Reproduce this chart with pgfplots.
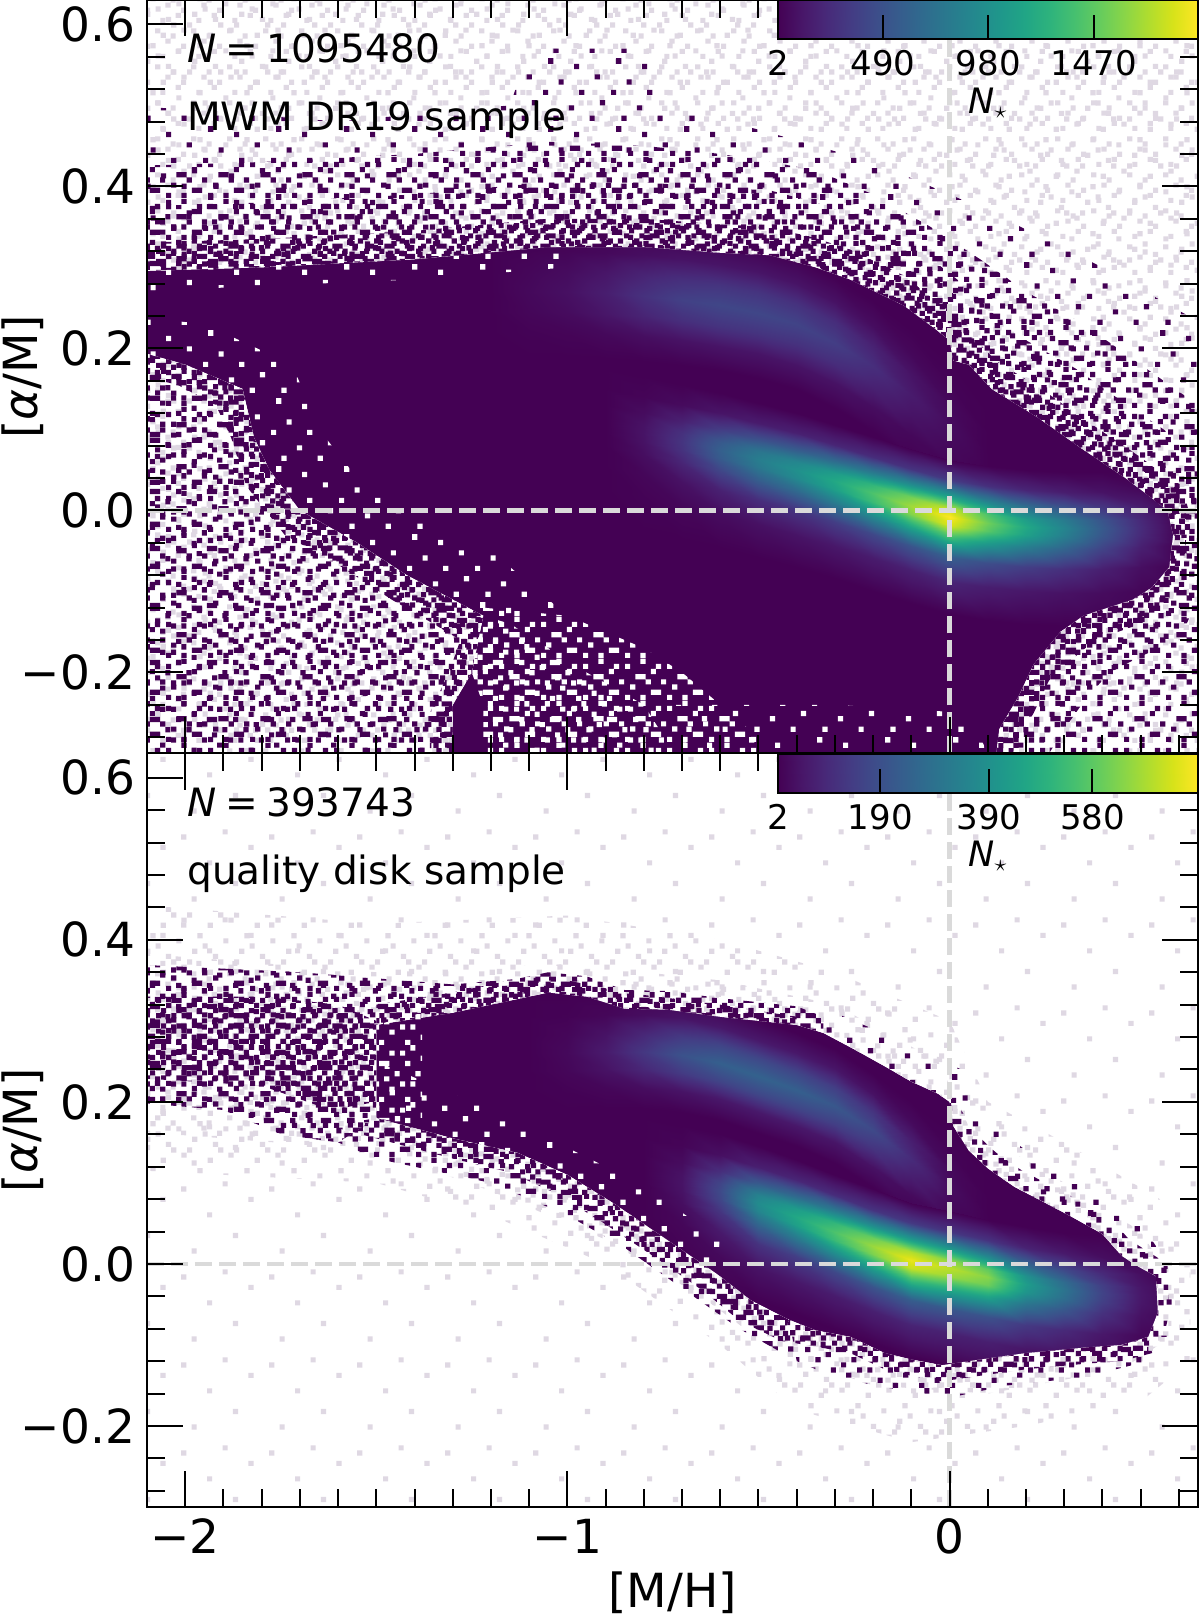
\documentclass[border=0pt]{standalone}
\usepackage{fontspec}
\setmainfont{DejaVu Sans}
\usepackage{pgfplots}
\usepackage{pgfplotstable}
\pgfplotsset{compat=1.18}
\usetikzlibrary{patterns}

\definecolor{vpur}{HTML}{440154}
\definecolor{spkgrey}{RGB}{223,216,227}
\definecolor{dashgrey}{RGB}{218,218,218}

\newcommand{\spk}[2]{\pgfpathrectangle{\pgfpoint{#1*2.6pt}{#2*2.6pt}}{\pgfpoint{2.6pt}{2.6pt}}}
\pgfdeclarepatternformonly{spkA}{\pgfpointorigin}{\pgfpoint{20.8pt}{20.8pt}}{\pgfpoint{20.8pt}{20.8pt}}{%
\spk{0}{0}\spk{3}{0}\spk{5}{1}\spk{6}{1}\spk{1}{2}\spk{4}{3}\spk{7}{3}\spk{2}{4}\spk{3}{4}\spk{5}{5}\spk{0}{6}\spk{6}{6}\spk{3}{7}\pgfusepath{fill}}
\pgfdeclarepatternformonly{spkB}{\pgfpointorigin}{\pgfpoint{28.6pt}{28.6pt}}{\pgfpoint{28.6pt}{28.6pt}}{%
\spk{1}{0}\spk{7}{0}\spk{4}{1}\spk{9}{2}\spk{0}{3}\spk{2}{3}\spk{6}{3}\spk{8}{4}\spk{3}{5}\spk{10}{5}\spk{5}{6}\spk{1}{7}\spk{7}{7}\spk{8}{7}\spk{4}{8}\spk{0}{9}\spk{9}{9}\spk{2}{10}\spk{6}{10}\pgfusepath{fill}}
\pgfdeclarepatternformonly{spkC}{\pgfpointorigin}{\pgfpoint{33.8pt}{33.8pt}}{\pgfpoint{33.8pt}{33.8pt}}{%
\spk{2}{1}\spk{9}{1}\spk{5}{3}\spk{11}{4}\spk{0}{6}\spk{7}{6}\spk{3}{8}\spk{10}{9}\spk{6}{11}\spk{1}{12}\pgfusepath{fill}}
\pgfdeclarepatternformonly{spkD}{\pgfpointorigin}{\pgfpoint{26pt}{26pt}}{\pgfpoint{26pt}{26pt}}{%
\spk{0}{0}\spk{1}{0}\spk{4}{0}\spk{7}{0}\spk{2}{1}\spk{5}{1}\spk{8}{1}\spk{9}{1}\spk{0}{2}\spk{3}{2}\spk{6}{2}\spk{1}{3}\spk{4}{3}\spk{5}{3}\spk{8}{3}\spk{2}{4}\spk{7}{4}\spk{9}{4}\spk{0}{5}\spk{3}{5}\spk{5}{5}\spk{6}{5}\spk{1}{6}\spk{4}{6}\spk{8}{6}\spk{2}{7}\spk{6}{7}\spk{9}{7}\spk{0}{8}\spk{3}{8}\spk{4}{8}\spk{7}{8}\spk{1}{9}\spk{5}{9}\spk{8}{9}\pgfusepath{fill}}
\pgfdeclarepatternformonly{spkG}{\pgfpointorigin}{\pgfpoint{23.4pt}{23.4pt}}{\pgfpoint{23.4pt}{23.4pt}}{%
\spk{1}{1}\spk{5}{0}\spk{7}{3}\spk{2}{4}\spk{4}{6}\spk{8}{7}\spk{0}{8}\spk{6}{8}\spk{3}{2}\pgfusepath{fill}}
\pgfdeclarepatternformonly{spkH}{\pgfpointorigin}{\pgfpoint{18.2pt}{18.2pt}}{\pgfpoint{18.2pt}{18.2pt}}{%
\spk{0}{2}\spk{3}{0}\spk{5}{4}\spk{2}{5}\spk{6}{1}\spk{4}{3}\pgfusepath{fill}}
\pgfdeclarepatternformonly{spkS}{\pgfpointorigin}{\pgfpoint{44.2pt}{44.2pt}}{\pgfpoint{44.2pt}{44.2pt}}{%
\spk{3}{2}\spk{11}{5}\spk{6}{9}\spk{14}{12}\spk{1}{14}\spk{9}{15}\pgfusepath{fill}}

% colour-bar ramp (meta = position along the bar)
\pgfplotstableread[row sep=\\]{
x y v\\
0 0 0\\ 0 1 0\\ 0.1 0 0.1\\ 0.1 1 0.1\\ 0.2 0 0.2\\ 0.2 1 0.2\\ 0.3 0 0.3\\ 0.3 1 0.3\\ 0.4 0 0.4\\ 0.4 1 0.4\\ 0.5 0 0.5\\ 0.5 1 0.5\\ 0.6 0 0.6\\ 0.6 1 0.6\\ 0.7 0 0.7\\ 0.7 1 0.7\\ 0.8 0 0.8\\ 0.8 1 0.8\\ 0.9 0 0.9\\ 0.9 1 0.9\\ 1 0 1\\ 1 1 1\\
}\Ramp

% ---------------- top panel data ----------------
\pgfplotstableread[row sep=\\]{
x y\\
-2.15 0.295\\ -1.8 0.3\\ -1.4 0.31\\ -1.05 0.325\\ -0.8 0.325\\ -0.6 0.318\\ -0.47 0.315\\ -0.35 0.3\\ -0.26 0.285\\ -0.12 0.253\\ -0.04 0.225\\ 0 0.21\\ 0.01 0.185\\ 0.05 0.18\\ 0.11 0.15\\ 0.23 0.115\\ 0.35 0.075\\ 0.46 0.04\\ 0.53 0.015\\ 0.57 0\\ 0.585 -0.03\\ 0.575 -0.07\\ 0.53 -0.095\\ 0.48 -0.11\\ 0.35 -0.13\\ 0.29 -0.15\\ 0.22 -0.19\\ 0.18 -0.23\\ 0.13 -0.27\\ 0.11 -0.35\\ -1.3 -0.35\\ -1.3 -0.24\\ -1.25 -0.2\\ -1.22 -0.13\\ -1.3 -0.11\\ -1.42 -0.08\\ -1.55 -0.04\\ -1.7 0.0\\ -1.78 0.05\\ -1.82 0.09\\ -1.85 0.15\\ -2.0 0.18\\ -2.15 0.2\\
}\Etop
\pgfplotstableread[row sep=\\]{
x y\\
-2.3 0.295\\ -2.3 0.8\\ 0.8 0.8\\ 0.8 -0.5\\ -2.3 -0.5\\ -2.3 0.295\\
-2.15 0.295\\ -1.8 0.3\\ -1.4 0.31\\ -1.05 0.325\\ -0.8 0.325\\ -0.6 0.318\\ -0.47 0.315\\ -0.35 0.3\\ -0.26 0.285\\ -0.12 0.253\\ -0.04 0.225\\ 0 0.21\\ 0.01 0.185\\ 0.05 0.18\\ 0.11 0.15\\ 0.23 0.115\\ 0.35 0.075\\ 0.46 0.04\\ 0.53 0.015\\ 0.57 0\\ 0.585 -0.03\\ 0.575 -0.07\\ 0.53 -0.095\\ 0.48 -0.11\\ 0.35 -0.13\\ 0.29 -0.15\\ 0.22 -0.19\\ 0.18 -0.23\\ 0.13 -0.27\\ 0.11 -0.35\\ -1.3 -0.35\\ -1.3 -0.24\\ -1.25 -0.2\\ -1.22 -0.13\\ -1.3 -0.11\\ -1.42 -0.08\\ -1.55 -0.04\\ -1.7 0.0\\ -1.78 0.05\\ -1.82 0.09\\ -1.85 0.15\\ -2.0 0.18\\ -2.15 0.2\\ -2.15 0.295\\
}\Mtop
\pgfplotstableread[row sep=\\]{
x y v\\
-1.2 0.19 0\\ -1.2 0.22 0\\ -1.2 0.245 0\\ -1.2 0.27 0\\ -1.2 0.295 0\\ -1.2 0.32 0\\ -1.2 0.35 0\\
-1.1 0.19 0\\ -1.1 0.22 0.005\\ -1.1 0.245 0.014\\ -1.1 0.27 0.02\\ -1.1 0.295 0.014\\ -1.1 0.32 0.005\\ -1.1 0.35 0\\
-1.0 0.19 0\\ -1.0 0.22 0.01\\ -1.0 0.245 0.028\\ -1.0 0.27 0.04\\ -1.0 0.295 0.028\\ -1.0 0.32 0.01\\ -1.0 0.35 0\\
-0.9 0.188 0\\ -0.9 0.218 0.02\\ -0.9 0.243 0.057\\ -0.9 0.268 0.08\\ -0.9 0.293 0.057\\ -0.9 0.318 0.02\\ -0.9 0.348 0\\
-0.8 0.185 0\\ -0.8 0.215 0.035\\ -0.8 0.24 0.099\\ -0.8 0.265 0.14\\ -0.8 0.29 0.099\\ -0.8 0.315 0.035\\ -0.8 0.345 0\\
-0.7 0.18 0\\ -0.7 0.21 0.047\\ -0.7 0.235 0.134\\ -0.7 0.26 0.19\\ -0.7 0.285 0.134\\ -0.7 0.31 0.047\\ -0.7 0.34 0\\
-0.6 0.173 0\\ -0.6 0.203 0.052\\ -0.6 0.228 0.148\\ -0.6 0.253 0.21\\ -0.6 0.278 0.148\\ -0.6 0.303 0.052\\ -0.6 0.333 0\\
-0.5 0.164 0\\ -0.5 0.194 0.052\\ -0.5 0.219 0.148\\ -0.5 0.244 0.21\\ -0.5 0.269 0.148\\ -0.5 0.294 0.052\\ -0.5 0.324 0\\
-0.4 0.15 0\\ -0.4 0.18 0.05\\ -0.4 0.205 0.141\\ -0.4 0.23 0.2\\ -0.4 0.255 0.141\\ -0.4 0.28 0.05\\ -0.4 0.31 0\\
-0.3 0.127 0\\ -0.3 0.157 0.045\\ -0.3 0.182 0.127\\ -0.3 0.207 0.18\\ -0.3 0.232 0.127\\ -0.3 0.257 0.045\\ -0.3 0.287 0\\
-0.2 0.098 0\\ -0.2 0.128 0.032\\ -0.2 0.153 0.092\\ -0.2 0.178 0.13\\ -0.2 0.203 0.092\\ -0.2 0.228 0.032\\ -0.2 0.258 0\\
-0.1 0.063 0\\ -0.1 0.093 0.017\\ -0.1 0.118 0.049\\ -0.1 0.143 0.07\\ -0.1 0.168 0.049\\ -0.1 0.193 0.017\\ -0.1 0.223 0\\
0.0 0.025 0\\ 0.0 0.055 0.007\\ 0.0 0.08 0.021\\ 0.0 0.105 0.03\\ 0.0 0.13 0.021\\ 0.0 0.155 0.007\\ 0.0 0.185 0\\
0.1 -0.01 0\\ 0.1 0.02 0\\ 0.1 0.045 0\\ 0.1 0.07 0\\ 0.1 0.095 0\\ 0.1 0.12 0\\ 0.1 0.15 0\\
}\Htop
\pgfplotstableread[row sep=\\]{
x y v\\
-0.9 -0.015 0\\ -0.9 0.025 0\\ -0.9 0.055 0\\ -0.9 0.08 0\\ -0.9 0.095 0\\ -0.9 0.105 0\\ -0.9 0.115 0\\ -0.9 0.13 0\\ -0.9 0.15 0\\ -0.9 0.175 0\\
-0.8 -0.025 0\\ -0.8 0.015 0.005\\ -0.8 0.045 0.015\\ -0.8 0.07 0.035\\ -0.8 0.085 0.047\\ -0.8 0.095 0.05\\ -0.8 0.105 0.046\\ -0.8 0.12 0.029\\ -0.8 0.14 0.009\\ -0.8 0.165 0\\
-0.7 -0.035 0\\ -0.7 0.005 0.015\\ -0.7 0.035 0.045\\ -0.7 0.06 0.105\\ -0.7 0.075 0.142\\ -0.7 0.085 0.15\\ -0.7 0.095 0.138\\ -0.7 0.11 0.087\\ -0.7 0.13 0.026\\ -0.7 0.155 0\\
-0.6 -0.045 0\\ -0.6 -0.005 0.03\\ -0.6 0.025 0.09\\ -0.6 0.05 0.21\\ -0.6 0.065 0.284\\ -0.6 0.075 0.3\\ -0.6 0.085 0.275\\ -0.6 0.1 0.174\\ -0.6 0.12 0.052\\ -0.6 0.145 0\\
-0.5 -0.057 0\\ -0.5 -0.017 0.042\\ -0.5 0.013 0.126\\ -0.5 0.038 0.294\\ -0.5 0.053 0.397\\ -0.5 0.063 0.42\\ -0.5 0.073 0.385\\ -0.5 0.088 0.244\\ -0.5 0.108 0.072\\ -0.5 0.133 0\\
-0.4 -0.07 0\\ -0.4 -0.03 0.05\\ -0.4 0.0 0.15\\ -0.4 0.025 0.35\\ -0.4 0.04 0.473\\ -0.4 0.05 0.5\\ -0.4 0.06 0.459\\ -0.4 0.075 0.29\\ -0.4 0.095 0.086\\ -0.4 0.12 0\\
-0.3 -0.084 0\\ -0.3 -0.044 0.06\\ -0.3 -0.014 0.18\\ -0.3 0.011 0.42\\ -0.3 0.026 0.568\\ -0.3 0.036 0.6\\ -0.3 0.046 0.55\\ -0.3 0.061 0.348\\ -0.3 0.081 0.103\\ -0.3 0.106 0\\
-0.2 -0.099 0\\ -0.2 -0.059 0.072\\ -0.2 -0.029 0.216\\ -0.2 -0.004 0.504\\ -0.2 0.011 0.681\\ -0.2 0.021 0.72\\ -0.2 0.031 0.66\\ -0.2 0.046 0.418\\ -0.2 0.066 0.124\\ -0.2 0.091 0\\
-0.1 -0.114 0\\ -0.1 -0.074 0.086\\ -0.1 -0.044 0.258\\ -0.1 -0.019 0.602\\ -0.1 -0.004 0.814\\ -0.1 0.006 0.86\\ -0.1 0.016 0.789\\ -0.1 0.031 0.499\\ -0.1 0.051 0.148\\ -0.1 0.076 0\\
0.0 -0.128 0\\ 0.0 -0.088 0.1\\ 0.0 -0.058 0.3\\ 0.0 -0.033 0.7\\ 0.0 -0.018 0.946\\ 0.0 -0.008 1\\ 0.0 0.002 0.917\\ 0.0 0.017 0.58\\ 0.0 0.037 0.172\\ 0.0 0.062 0\\
0.1 -0.135 0\\ 0.1 -0.095 0.078\\ 0.1 -0.065 0.234\\ 0.1 -0.04 0.546\\ 0.1 -0.025 0.738\\ 0.1 -0.015 0.78\\ 0.1 -0.005 0.715\\ 0.1 0.01 0.452\\ 0.1 0.03 0.134\\ 0.1 0.055 0\\
0.2 -0.14 0\\ 0.2 -0.1 0.06\\ 0.2 -0.07 0.18\\ 0.2 -0.045 0.42\\ 0.2 -0.03 0.568\\ 0.2 -0.02 0.6\\ 0.2 -0.01 0.55\\ 0.2 0.005 0.348\\ 0.2 0.025 0.103\\ 0.2 0.05 0\\
0.3 -0.142 0\\ 0.3 -0.102 0.045\\ 0.3 -0.072 0.135\\ 0.3 -0.047 0.315\\ 0.3 -0.032 0.426\\ 0.3 -0.022 0.45\\ 0.3 -0.012 0.413\\ 0.3 0.003 0.261\\ 0.3 0.023 0.077\\ 0.3 0.048 0\\
0.4 -0.142 0\\ 0.4 -0.102 0.028\\ 0.4 -0.072 0.084\\ 0.4 -0.047 0.196\\ 0.4 -0.032 0.265\\ 0.4 -0.022 0.28\\ 0.4 -0.012 0.257\\ 0.4 0.003 0.162\\ 0.4 0.023 0.048\\ 0.4 0.048 0\\
0.5 -0.14 0\\ 0.5 -0.1 0.012\\ 0.5 -0.07 0.036\\ 0.5 -0.045 0.084\\ 0.5 -0.03 0.114\\ 0.5 -0.02 0.12\\ 0.5 -0.01 0.11\\ 0.5 0.005 0.07\\ 0.5 0.025 0.021\\ 0.5 0.05 0\\
0.6 -0.138 0\\ 0.6 -0.098 0\\ 0.6 -0.068 0\\ 0.6 -0.043 0\\ 0.6 -0.028 0\\ 0.6 -0.018 0\\ 0.6 -0.008 0\\ 0.6 0.007 0\\ 0.6 0.027 0\\ 0.6 0.052 0\\
}\Ltop

% ---------------- bottom panel data ----------------
\pgfplotstableread[row sep=\\]{
x y\\
-1.5 0.295\\ -1.3 0.31\\ -1.15 0.325\\ -1.05 0.335\\ -0.95 0.33\\ -0.85 0.315\\ -0.74 0.314\\ -0.6 0.305\\ -0.5 0.3\\ -0.4 0.295\\ -0.33 0.285\\ -0.25 0.265\\ -0.17 0.244\\ -0.1 0.225\\ -0.03 0.21\\ 0 0.2\\ 0.01 0.17\\ 0.05 0.14\\ 0.1 0.118\\ 0.17 0.095\\ 0.24 0.078\\ 0.32 0.058\\ 0.4 0.037\\ 0.45 0.01\\ 0.5 -0.005\\ 0.54 -0.015\\ 0.545 -0.06\\ 0.52 -0.09\\ 0.45 -0.1\\ 0.36 -0.103\\ 0.2 -0.11\\ 0.05 -0.12\\ -0.02 -0.125\\ -0.1 -0.118\\ -0.17 -0.11\\ -0.26 -0.09\\ -0.35 -0.082\\ -0.42 -0.069\\ -0.52 -0.045\\ -0.61 -0.012\\ -0.74 0.03\\ -0.88 0.075\\ -1.0 0.11\\ -1.13 0.137\\ -1.3 0.155\\ -1.5 0.18\\
}\Ebot
\pgfplotstableread[row sep=\\]{
x y\\
-2.3 0.295\\ -2.3 0.8\\ 0.8 0.8\\ 0.8 -0.5\\ -2.3 -0.5\\ -2.3 0.295\\
-1.5 0.295\\ -1.3 0.31\\ -1.15 0.325\\ -1.05 0.335\\ -0.95 0.33\\ -0.85 0.315\\ -0.74 0.314\\ -0.6 0.305\\ -0.5 0.3\\ -0.4 0.295\\ -0.33 0.285\\ -0.25 0.265\\ -0.17 0.244\\ -0.1 0.225\\ -0.03 0.21\\ 0 0.2\\ 0.01 0.17\\ 0.05 0.14\\ 0.1 0.118\\ 0.17 0.095\\ 0.24 0.078\\ 0.32 0.058\\ 0.4 0.037\\ 0.45 0.01\\ 0.5 -0.005\\ 0.54 -0.015\\ 0.545 -0.06\\ 0.52 -0.09\\ 0.45 -0.1\\ 0.36 -0.103\\ 0.2 -0.11\\ 0.05 -0.12\\ -0.02 -0.125\\ -0.1 -0.118\\ -0.17 -0.11\\ -0.26 -0.09\\ -0.35 -0.082\\ -0.42 -0.069\\ -0.52 -0.045\\ -0.61 -0.012\\ -0.74 0.03\\ -0.88 0.075\\ -1.0 0.11\\ -1.13 0.137\\ -1.3 0.155\\ -1.5 0.18\\ -1.5 0.295\\
}\Mbot
\pgfplotstableread[row sep=\\]{
x y\\
-2.3 0.45\\ -1.5 0.42\\ -1.0 0.43\\ -0.6 0.4\\ -0.3 0.36\\ 0.0 0.3\\ 0.1 0.2\\ 0.3 0.15\\ 0.55 0.08\\ 0.63 0.0\\ 0.63 -0.12\\ 0.5 -0.17\\ 0.2 -0.2\\ -0.1 -0.22\\ -0.4 -0.18\\ -0.6 -0.1\\ -0.9 0.0\\ -1.2 0.06\\ -1.5 0.1\\ -2.3 0.12\\ -2.3 0.45\\
-1.5 0.295\\ -1.3 0.31\\ -1.15 0.325\\ -1.05 0.335\\ -0.95 0.33\\ -0.85 0.315\\ -0.74 0.314\\ -0.6 0.305\\ -0.5 0.3\\ -0.4 0.295\\ -0.33 0.285\\ -0.25 0.265\\ -0.17 0.244\\ -0.1 0.225\\ -0.03 0.21\\ 0 0.2\\ 0.01 0.17\\ 0.05 0.14\\ 0.1 0.118\\ 0.17 0.095\\ 0.24 0.078\\ 0.32 0.058\\ 0.4 0.037\\ 0.45 0.01\\ 0.5 -0.005\\ 0.54 -0.015\\ 0.545 -0.06\\ 0.52 -0.09\\ 0.45 -0.1\\ 0.36 -0.103\\ 0.2 -0.11\\ 0.05 -0.12\\ -0.02 -0.125\\ -0.1 -0.118\\ -0.17 -0.11\\ -0.26 -0.09\\ -0.35 -0.082\\ -0.42 -0.069\\ -0.52 -0.045\\ -0.61 -0.012\\ -0.74 0.03\\ -0.88 0.075\\ -1.0 0.11\\ -1.13 0.137\\ -1.3 0.155\\ -1.5 0.18\\ -1.5 0.295\\
}\Hone
\pgfplotstableread[row sep=\\]{
x y\\
-2.3 0.39\\ -1.5 0.36\\ -1.0 0.37\\ -0.6 0.35\\ -0.3 0.32\\ -0.03 0.25\\ 0.05 0.17\\ 0.3 0.1\\ 0.5 0.04\\ 0.58 -0.02\\ 0.58 -0.09\\ 0.45 -0.13\\ 0.1 -0.16\\ -0.2 -0.15\\ -0.45 -0.11\\ -0.65 -0.04\\ -0.9 0.03\\ -1.2 0.09\\ -1.5 0.14\\ -2.3 0.17\\ -2.3 0.39\\
-1.5 0.295\\ -1.3 0.31\\ -1.15 0.325\\ -1.05 0.335\\ -0.95 0.33\\ -0.85 0.315\\ -0.74 0.314\\ -0.6 0.305\\ -0.5 0.3\\ -0.4 0.295\\ -0.33 0.285\\ -0.25 0.265\\ -0.17 0.244\\ -0.1 0.225\\ -0.03 0.21\\ 0 0.2\\ 0.01 0.17\\ 0.05 0.14\\ 0.1 0.118\\ 0.17 0.095\\ 0.24 0.078\\ 0.32 0.058\\ 0.4 0.037\\ 0.45 0.01\\ 0.5 -0.005\\ 0.54 -0.015\\ 0.545 -0.06\\ 0.52 -0.09\\ 0.45 -0.1\\ 0.36 -0.103\\ 0.2 -0.11\\ 0.05 -0.12\\ -0.02 -0.125\\ -0.1 -0.118\\ -0.17 -0.11\\ -0.26 -0.09\\ -0.35 -0.082\\ -0.42 -0.069\\ -0.52 -0.045\\ -0.61 -0.012\\ -0.74 0.03\\ -0.88 0.075\\ -1.0 0.11\\ -1.13 0.137\\ -1.3 0.155\\ -1.5 0.18\\ -1.5 0.295\\
}\Htwo
\pgfplotstableread[row sep=\\]{
x y v\\
-1.1 0.19 0\\ -1.1 0.215 0\\ -1.1 0.238 0\\ -1.1 0.26 0\\ -1.1 0.282 0\\ -1.1 0.305 0\\ -1.1 0.33 0\\
-1.0 0.19 0\\ -1.0 0.215 0.004\\ -1.0 0.238 0.014\\ -1.0 0.26 0.02\\ -1.0 0.282 0.014\\ -1.0 0.305 0.004\\ -1.0 0.33 0\\
-0.9 0.192 0\\ -0.9 0.217 0.014\\ -0.9 0.24 0.048\\ -0.9 0.262 0.07\\ -0.9 0.284 0.048\\ -0.9 0.307 0.014\\ -0.9 0.332 0\\
-0.8 0.192 0\\ -0.8 0.217 0.032\\ -0.8 0.24 0.109\\ -0.8 0.262 0.16\\ -0.8 0.284 0.109\\ -0.8 0.307 0.032\\ -0.8 0.332 0\\
-0.7 0.188 0\\ -0.7 0.213 0.05\\ -0.7 0.236 0.17\\ -0.7 0.258 0.25\\ -0.7 0.28 0.17\\ -0.7 0.303 0.05\\ -0.7 0.328 0\\
-0.6 0.178 0\\ -0.6 0.203 0.06\\ -0.6 0.226 0.204\\ -0.6 0.248 0.3\\ -0.6 0.27 0.204\\ -0.6 0.293 0.06\\ -0.6 0.318 0\\
-0.5 0.162 0\\ -0.5 0.187 0.062\\ -0.5 0.21 0.211\\ -0.5 0.232 0.31\\ -0.5 0.254 0.211\\ -0.5 0.277 0.062\\ -0.5 0.302 0\\
-0.4 0.145 0\\ -0.4 0.17 0.06\\ -0.4 0.193 0.204\\ -0.4 0.215 0.3\\ -0.4 0.237 0.204\\ -0.4 0.26 0.06\\ -0.4 0.285 0\\
-0.3 0.125 0\\ -0.3 0.15 0.054\\ -0.3 0.173 0.184\\ -0.3 0.195 0.27\\ -0.3 0.217 0.184\\ -0.3 0.24 0.054\\ -0.3 0.265 0\\
-0.2 0.095 0\\ -0.2 0.12 0.044\\ -0.2 0.143 0.15\\ -0.2 0.165 0.22\\ -0.2 0.187 0.15\\ -0.2 0.21 0.044\\ -0.2 0.235 0\\
-0.1 0.06 0\\ -0.1 0.085 0.024\\ -0.1 0.108 0.082\\ -0.1 0.13 0.12\\ -0.1 0.152 0.082\\ -0.1 0.175 0.024\\ -0.1 0.2 0\\
0.0 0.025 0\\ 0.0 0.05 0.006\\ 0.0 0.073 0.02\\ 0.0 0.095 0.03\\ 0.0 0.117 0.02\\ 0.0 0.14 0.006\\ 0.0 0.165 0\\
0.1 -0.01 0\\ 0.1 0.015 0\\ 0.1 0.038 0\\ 0.1 0.06 0\\ 0.1 0.082 0\\ 0.1 0.105 0\\ 0.1 0.13 0\\
}\Hbot
\pgfplotstableread[row sep=\\]{
x y v\\
-0.8 -0.01 0\\ -0.8 0.03 0\\ -0.8 0.06 0\\ -0.8 0.085 0\\ -0.8 0.1 0\\ -0.8 0.11 0\\ -0.8 0.12 0\\ -0.8 0.135 0\\ -0.8 0.155 0\\ -0.8 0.18 0\\
-0.7 -0.02 0\\ -0.7 0.02 0.005\\ -0.7 0.05 0.015\\ -0.7 0.075 0.035\\ -0.7 0.09 0.047\\ -0.7 0.1 0.05\\ -0.7 0.11 0.046\\ -0.7 0.125 0.029\\ -0.7 0.145 0.009\\ -0.7 0.17 0\\
-0.6 -0.03 0\\ -0.6 0.01 0.022\\ -0.6 0.04 0.066\\ -0.6 0.065 0.154\\ -0.6 0.08 0.208\\ -0.6 0.09 0.22\\ -0.6 0.1 0.202\\ -0.6 0.115 0.128\\ -0.6 0.135 0.038\\ -0.6 0.16 0\\
-0.5 -0.045 0\\ -0.5 -0.005 0.048\\ -0.5 0.025 0.144\\ -0.5 0.05 0.336\\ -0.5 0.065 0.454\\ -0.5 0.075 0.48\\ -0.5 0.085 0.44\\ -0.5 0.1 0.278\\ -0.5 0.12 0.083\\ -0.5 0.145 0\\
-0.4 -0.062 0\\ -0.4 -0.022 0.06\\ -0.4 0.008 0.18\\ -0.4 0.033 0.42\\ -0.4 0.048 0.568\\ -0.4 0.058 0.6\\ -0.4 0.068 0.55\\ -0.4 0.083 0.348\\ -0.4 0.103 0.103\\ -0.4 0.128 0\\
-0.3 -0.08 0\\ -0.3 -0.04 0.072\\ -0.3 -0.01 0.216\\ -0.3 0.015 0.504\\ -0.3 0.03 0.681\\ -0.3 0.04 0.72\\ -0.3 0.05 0.66\\ -0.3 0.065 0.418\\ -0.3 0.085 0.124\\ -0.3 0.11 0\\
-0.2 -0.098 0\\ -0.2 -0.058 0.085\\ -0.2 -0.028 0.255\\ -0.2 -0.003 0.595\\ -0.2 0.012 0.804\\ -0.2 0.022 0.85\\ -0.2 0.032 0.779\\ -0.2 0.047 0.493\\ -0.2 0.067 0.146\\ -0.2 0.092 0\\
-0.1 -0.115 0\\ -0.1 -0.075 0.097\\ -0.1 -0.045 0.291\\ -0.1 -0.02 0.679\\ -0.1 -0.005 0.918\\ -0.1 0.005 0.97\\ -0.1 0.015 0.889\\ -0.1 0.03 0.563\\ -0.1 0.05 0.167\\ -0.1 0.075 0\\
0.0 -0.125 0\\ 0.0 -0.085 0.09\\ 0.0 -0.055 0.27\\ 0.0 -0.03 0.63\\ 0.0 -0.015 0.851\\ 0.0 -0.005 0.9\\ 0.0 0.005 0.825\\ 0.0 0.02 0.522\\ 0.0 0.04 0.155\\ 0.0 0.065 0\\
0.1 -0.136 0\\ 0.1 -0.096 0.082\\ 0.1 -0.066 0.246\\ 0.1 -0.041 0.574\\ 0.1 -0.026 0.776\\ 0.1 -0.016 0.82\\ 0.1 -0.006 0.752\\ 0.1 0.009 0.476\\ 0.1 0.029 0.141\\ 0.1 0.054 0\\
0.2 -0.145 0\\ 0.2 -0.105 0.055\\ 0.2 -0.075 0.165\\ 0.2 -0.05 0.385\\ 0.2 -0.035 0.52\\ 0.2 -0.025 0.55\\ 0.2 -0.015 0.504\\ 0.2 0.0 0.319\\ 0.2 0.02 0.095\\ 0.2 0.045 0\\
0.3 -0.152 0\\ 0.3 -0.112 0.038\\ 0.3 -0.082 0.114\\ 0.3 -0.057 0.266\\ 0.3 -0.042 0.359\\ 0.3 -0.032 0.38\\ 0.3 -0.022 0.348\\ 0.3 -0.007 0.22\\ 0.3 0.013 0.065\\ 0.3 0.038 0\\
0.4 -0.156 0\\ 0.4 -0.116 0.02\\ 0.4 -0.086 0.06\\ 0.4 -0.061 0.14\\ 0.4 -0.046 0.189\\ 0.4 -0.036 0.2\\ 0.4 -0.026 0.183\\ 0.4 -0.011 0.116\\ 0.4 0.009 0.034\\ 0.4 0.034 0\\
0.5 -0.158 0\\ 0.5 -0.118 0.006\\ 0.5 -0.088 0.018\\ 0.5 -0.063 0.042\\ 0.5 -0.048 0.057\\ 0.5 -0.038 0.06\\ 0.5 -0.028 0.055\\ 0.5 -0.013 0.035\\ 0.5 0.007 0.01\\ 0.5 0.032 0\\
0.6 -0.16 0\\ 0.6 -0.12 0\\ 0.6 -0.09 0\\ 0.6 -0.065 0\\ 0.6 -0.05 0\\ 0.6 -0.04 0\\ 0.6 -0.03 0\\ 0.6 -0.015 0\\ 0.6 0.005 0\\ 0.6 0.03 0\\
}\Lbot

\pgfplotsset{
  panel/.style={
    width=525.5pt, height=376.75pt, scale only axis,
    xmin=-2.1, xmax=0.65, ymin=-0.3, ymax=0.63,
    xtick={-2,-1,0},
    minor xtick={-1.9,-1.8,-1.7,-1.6,-1.5,-1.4,-1.3,-1.2,-1.1,-0.9,-0.8,-0.7,-0.6,-0.5,-0.4,-0.3,-0.2,-0.1,0.1,0.2,0.3,0.4,0.5,0.6},
    ytick={-0.2,0,0.2,0.4,0.6},
    yticklabels={−0.2,0.0,0.2,0.4,0.6},
    minor ytick={-0.28,-0.24,-0.16,-0.12,-0.08,-0.04,0.04,0.08,0.12,0.16,0.24,0.28,0.32,0.36,0.44,0.48,0.52,0.56},
    xtick pos=both, ytick pos=both, tick align=inside,
    major tick length=18pt, minor tick length=9pt,
    tick style={black, line width=1pt},
    axis line style={line width=1pt},
    ticklabel style={font=\fontsize{23.5}{28}\selectfont, inner sep=5.8pt},
    label style={font=\fontsize{23.5}{28}\selectfont},
    ylabel={[\textit{α}/M]},
    ylabel style={at={(axis description cs:-0.118,0.5)}, anchor=center},
    colormap/viridis, point meta min=0, point meta max=1,
    axis on top,
  },
  cbar/.style={
    anchor=north east, scale only axis, width=210pt, height=19.65pt,
    xmin=0, xmax=1, ymin=0, ymax=1, ytick=\empty,
    xtick pos=left, tick align=inside,
    major tick length=12pt, minor tick num=0,
    tick style={black, line width=1pt},
    axis line style={line width=1pt},
    ticklabel style={font=\fontsize{17}{20}\selectfont, inner sep=5.5pt},
    xlabel={\textit{N}$_\star$},
    xlabel style={font=\fontsize{17.5}{20}\selectfont, at={(axis description cs:0.5,0)}, anchor=base, yshift=-37pt},
    colormap/viridis, point meta min=0, point meta max=1,
    axis on top,
  },
  spk/.style={draw=none, forget plot},
}

\begin{document}
\begin{tikzpicture}
\useasboundingbox (-73.5pt,-431.25pt) rectangle (526.5pt,376.75pt);

% ================= TOP =================
\begin{axis}[panel, at={(0pt,0pt)}, anchor=south west, xticklabels={}]
\addplot[fill=vpur, spk] table[x=x,y=y] {\Etop};
\addplot[surf, shader=interp, mesh/rows=14, mesh/cols=7, point meta=\thisrow{v}, forget plot] table[x=x,y=y] {\Htop};
\addplot[surf, shader=interp, mesh/rows=16, mesh/cols=10, point meta=\thisrow{v}, forget plot] table[x=x,y=y] {\Ltop};
\addplot[fill=white, even odd rule, spk] table[x=x,y=y] {\Mtop};
\addplot[pattern=spkG, pattern color=spkgrey, even odd rule, spk] table[x=x,y=y] {\Mtop};
\addplot[pattern=spkH, pattern color=spkgrey, even odd rule, spk] table[x=x,y=y] {\Mtop};
% purple speckles above the top edge (layered bands)
\addplot[pattern=spkD, pattern color=vpur, spk] coordinates {(-2.15,0.295) (-1.8,0.3) (-1.4,0.31) (-1.05,0.325) (-0.8,0.325) (-0.6,0.318) (-0.47,0.315) (-0.35,0.3) (-0.26,0.285) (-0.12,0.253) (-0.04,0.225) (0,0.21) (0.01,0.185) (0.05,0.18) (0.11,0.15) (0.23,0.115) (0.35,0.075) (0.46,0.04) (0.53,0.015) (0.57,0) (0.585,-0.03) (0.64,-0.03) (0.61,0.03) (0.56,0.045) (0.48,0.072) (0.36,0.11) (0.24,0.15) (0.12,0.185) (0.06,0.215) (0.02,0.24) (-0.04,0.26) (-0.12,0.29) (-0.26,0.322) (-0.35,0.336) (-0.47,0.35) (-0.6,0.353) (-0.8,0.36) (-1.05,0.36) (-1.4,0.345) (-1.8,0.335) (-2.15,0.33)};
\addplot[pattern=spkB, pattern color=vpur, spk] coordinates {(-2.15,0.295) (-1.8,0.3) (-1.4,0.31) (-1.05,0.325) (-0.8,0.325) (-0.6,0.318) (-0.47,0.315) (-0.35,0.3) (-0.26,0.285) (-0.12,0.253) (-0.04,0.225) (0,0.21) (0.01,0.185) (0.05,0.18) (0.11,0.15) (0.23,0.115) (0.35,0.075) (0.46,0.04) (0.53,0.015) (0.57,0) (0.585,-0.03) (0.7,-0.03) (0.7,0.05) (0.64,0.07) (0.56,0.1) (0.45,0.135) (0.33,0.175) (0.2,0.21) (0.12,0.24) (0.06,0.27) (-0.02,0.3) (-0.12,0.335) (-0.26,0.365) (-0.35,0.38) (-0.47,0.395) (-0.6,0.398) (-0.8,0.405) (-1.05,0.405) (-1.4,0.39) (-1.8,0.38) (-2.15,0.375)};
\addplot[pattern=spkA, pattern color=vpur, spk] coordinates {(-2.15,0.295) (-1.8,0.3) (-1.4,0.31) (-1.05,0.325) (-0.8,0.325) (-0.6,0.318) (-0.47,0.315) (-0.35,0.3) (-0.26,0.285) (-0.12,0.253) (-0.04,0.225) (0,0.21) (0.01,0.185) (0.05,0.18) (0.11,0.15) (0.23,0.115) (0.35,0.075) (0.46,0.04) (0.53,0.015) (0.57,0) (0.585,-0.03) (0.7,-0.03) (0.7,0.12) (0.62,0.14) (0.5,0.18) (0.35,0.23) (0.2,0.27) (0.08,0.31) (-0.05,0.35) (-0.2,0.39) (-0.35,0.42) (-0.47,0.43) (-0.6,0.44) (-0.8,0.45) (-1.05,0.455) (-1.4,0.44) (-1.8,0.43) (-2.15,0.425)};
\addplot[pattern=spkC, pattern color=vpur, spk] coordinates {(-2.15,0.295) (-1.8,0.3) (-1.4,0.31) (-1.05,0.325) (-0.8,0.325) (-0.6,0.318) (-0.47,0.315) (-0.35,0.3) (-0.26,0.285) (-0.12,0.253) (-0.04,0.225) (0,0.21) (0.01,0.185) (0.05,0.18) (0.11,0.15) (0.23,0.115) (0.35,0.075) (0.46,0.04) (0.53,0.015) (0.57,0) (0.585,-0.03) (0.7,-0.03) (0.7,0.22) (0.4,0.3) (0.1,0.37) (-0.2,0.43) (-0.5,0.47) (-0.75,0.5) (-0.8,0.57) (-1.1,0.57) (-1.15,0.5) (-1.6,0.48) (-2.15,0.5)};
% lower right
\addplot[pattern=spkA, pattern color=vpur, spk] coordinates {(0.585,-0.03) (0.7,-0.03) (0.7,-0.35) (0.11,-0.35) (0.13,-0.27) (0.18,-0.23) (0.22,-0.19) (0.29,-0.15) (0.35,-0.13) (0.48,-0.11) (0.53,-0.095) (0.575,-0.07)};
\addplot[pattern=spkB, pattern color=vpur, spk] coordinates {(0.585,-0.03) (0.575,-0.07) (0.53,-0.095) (0.48,-0.11) (0.35,-0.13) (0.29,-0.15) (0.22,-0.19) (0.18,-0.23) (0.13,-0.27) (0.11,-0.35) (0.24,-0.35) (0.26,-0.3) (0.3,-0.27) (0.36,-0.23) (0.42,-0.2) (0.5,-0.18) (0.6,-0.16) (0.66,-0.1) (0.66,-0.03)};
\addplot[pattern=spkD, pattern color=vpur, spk] coordinates {(0.585,-0.03) (0.575,-0.07) (0.53,-0.095) (0.48,-0.11) (0.35,-0.13) (0.29,-0.15) (0.22,-0.19) (0.18,-0.23) (0.13,-0.27) (0.11,-0.35) (0.15,-0.35) (0.17,-0.29) (0.22,-0.25) (0.26,-0.21) (0.33,-0.18) (0.38,-0.16) (0.5,-0.14) (0.56,-0.12) (0.61,-0.08) (0.62,-0.03)};
% lower left
\addplot[pattern=spkA, pattern color=vpur, spk] coordinates {(-2.15,0.2) (-2.0,0.18) (-1.85,0.15) (-1.82,0.09) (-1.78,0.05) (-1.7,0.0) (-1.55,-0.04) (-1.42,-0.08) (-1.3,-0.11) (-1.22,-0.13) (-1.25,-0.2) (-1.3,-0.24) (-1.3,-0.35) (-2.15,-0.35)};
\addplot[pattern=spkB, pattern color=vpur, spk] coordinates {(-2.15,0.2) (-2.0,0.18) (-1.85,0.15) (-1.82,0.09) (-1.78,0.05) (-1.7,0.0) (-1.55,-0.04) (-1.42,-0.08) (-1.3,-0.11) (-1.22,-0.13) (-1.25,-0.2) (-1.3,-0.24) (-1.3,-0.35) (-2.15,-0.35)};
\addplot[pattern=spkD, pattern color=vpur, spk] coordinates {(-2.15,0.2) (-2.0,0.18) (-1.85,0.15) (-1.82,0.09) (-1.78,0.05) (-1.7,0.0) (-1.55,-0.04) (-1.42,-0.08) (-1.3,-0.11) (-1.22,-0.13) (-1.25,-0.2) (-1.3,-0.24) (-1.3,-0.35) (-1.36,-0.35) (-1.36,-0.25) (-1.31,-0.2) (-1.28,-0.16) (-1.35,-0.14) (-1.46,-0.11) (-1.59,-0.07) (-1.74,-0.03) (-1.84,0.03) (-1.88,0.09) (-1.92,0.13) (-2.02,0.155) (-2.15,0.17)};
% white holes inside the envelope edge
\addplot[pattern=spkC, pattern color=white, spk] coordinates {(-2.15,0.2) (-2.0,0.18) (-1.85,0.15) (-1.82,0.09) (-1.78,0.05) (-1.7,0.0) (-1.55,-0.04) (-1.42,-0.08) (-1.3,-0.11) (-1.22,-0.13) (-1.0,-0.13) (-1.2,-0.05) (-1.4,0.0) (-1.55,0.04) (-1.65,0.1) (-1.72,0.18) (-1.95,0.23) (-2.15,0.24)};
\addplot[pattern=spkA, pattern color=white, spk] coordinates {(-1.22,-0.35) (-0.45,-0.35) (-0.5,-0.28) (-0.6,-0.24) (-0.7,-0.2) (-0.8,-0.17) (-1.0,-0.13) (-1.22,-0.12) (-1.25,-0.2) (-1.22,-0.24)};
\addplot[pattern=spkB, pattern color=white, spk] coordinates {(-1.22,-0.35) (-0.72,-0.35) (-0.72,-0.3) (-0.8,-0.24) (-0.95,-0.2) (-1.05,-0.17) (-1.15,-0.14) (-1.22,-0.13) (-1.25,-0.2) (-1.22,-0.24)};
\addplot[pattern=spkC, pattern color=white, spk] coordinates {(-0.72,-0.35) (0.11,-0.35) (0.1,-0.3) (0.05,-0.25) (-0.3,-0.24) (-0.72,-0.24)};
\addplot[pattern=spkC, pattern color=white, spk] coordinates {(-2.15,0.295) (-1.4,0.31) (-1.0,0.325) (-1.0,0.3) (-1.4,0.285) (-2.15,0.27)};
% reference lines
\addplot[dashgrey, line width=2.4pt, dash pattern=on 8.5pt off 3.5pt, forget plot] coordinates {(-2.1,0) (0.65,0)};
\addplot[dashgrey, line width=2.4pt, dash pattern=on 8.5pt off 3.5pt, forget plot] coordinates {(0,-0.3) (0,0.63)};
\node[anchor=base west, font=\fontsize{19.5}{23}\selectfont, inner sep=0pt] at (rel axis cs:0.038,0.9164) {\textit{N}\hspace{0.22em}=\hspace{0.22em}1095480};
\node[anchor=base west, font=\fontsize{19.5}{23}\selectfont, inner sep=0pt] at (rel axis cs:0.038,0.8263) {MWM DR19 sample};
\end{axis}
% colour bar of the top panel
\begin{axis}[cbar, at={(525.5pt,376.75pt)}, xtick={0,0.25,0.501,0.752}, xticklabels={2,490,980,1470}]
\addplot[surf, shader=interp, mesh/rows=11, mesh/cols=2, point meta=\thisrow{v}, forget plot] table[x=x,y=y] {\Ramp};
\end{axis}

% ================= BOTTOM =================
\begin{axis}[panel, at={(0pt,0pt)}, anchor=north west,
  xticklabels={−2,−1,0}, xlabel={[M/H]},
  xlabel style={at={(axis description cs:0.5,-0.114)}, anchor=center}]
\addplot[fill=vpur, spk] table[x=x,y=y] {\Ebot};
\addplot[surf, shader=interp, mesh/rows=13, mesh/cols=7, point meta=\thisrow{v}, forget plot] table[x=x,y=y] {\Hbot};
\addplot[surf, shader=interp, mesh/rows=15, mesh/cols=10, point meta=\thisrow{v}, forget plot] table[x=x,y=y] {\Lbot};
\addplot[fill=white, even odd rule, spk] table[x=x,y=y] {\Mbot};
\addplot[pattern=spkS, pattern color=spkgrey, even odd rule, spk] table[x=x,y=y] {\Mbot};
\addplot[pattern=spkG, pattern color=spkgrey, even odd rule, spk] table[x=x,y=y] {\Hone};
\addplot[pattern=spkH, pattern color=spkgrey, even odd rule, spk] table[x=x,y=y] {\Htwo};
% purple speckles, upper left
\addplot[pattern=spkA, pattern color=vpur, spk] coordinates {(-2.15,0.37) (-1.7,0.36) (-1.3,0.345) (-1.05,0.355) (-0.85,0.335) (-0.6,0.32) (-0.4,0.305) (-0.4,0.295) (-0.5,0.3) (-0.6,0.305) (-0.74,0.314) (-0.85,0.315) (-0.95,0.33) (-1.05,0.335) (-1.15,0.325) (-1.3,0.31) (-1.5,0.295) (-1.5,0.18) (-1.6,0.15) (-1.75,0.16) (-1.9,0.19) (-2.15,0.2)};
\addplot[pattern=spkB, pattern color=vpur, spk] coordinates {(-2.15,0.37) (-1.7,0.36) (-1.3,0.345) (-1.05,0.355) (-0.85,0.335) (-0.6,0.32) (-0.4,0.305) (-0.4,0.295) (-0.5,0.3) (-0.6,0.305) (-0.74,0.314) (-0.85,0.315) (-0.95,0.33) (-1.05,0.335) (-1.15,0.325) (-1.3,0.31) (-1.5,0.295) (-1.5,0.18) (-1.6,0.15) (-1.75,0.16) (-1.9,0.19) (-2.15,0.2)};
\addplot[pattern=spkD, pattern color=vpur, spk] coordinates {(-2.15,0.33) (-1.8,0.33) (-1.6,0.32) (-1.5,0.3) (-1.5,0.2) (-1.62,0.19) (-1.8,0.22) (-2.15,0.23)};
\addplot[pattern=spkD, pattern color=vpur, spk] coordinates {(-1.5,0.295) (-1.3,0.31) (-1.15,0.325) (-1.05,0.335) (-0.95,0.33) (-0.85,0.315) (-0.74,0.314) (-0.6,0.305) (-0.5,0.3) (-0.4,0.295) (-0.33,0.285) (-0.33,0.305) (-0.4,0.318) (-0.5,0.323) (-0.6,0.328) (-0.74,0.337) (-0.85,0.338) (-0.95,0.355) (-1.05,0.36) (-1.15,0.35) (-1.3,0.335) (-1.5,0.32)};
% lower-left edge
\addplot[pattern=spkA, pattern color=vpur, spk] coordinates {(-1.5,0.18) (-1.3,0.155) (-1.13,0.137) (-1.0,0.11) (-0.88,0.075) (-0.74,0.03) (-0.61,-0.012) (-0.52,-0.045) (-0.42,-0.069) (-0.4,-0.12) (-0.55,-0.08) (-0.7,-0.03) (-0.85,0.02) (-1.0,0.06) (-1.2,0.1) (-1.5,0.13) (-1.6,0.15)};
\addplot[pattern=spkD, pattern color=vpur, spk] coordinates {(-1.5,0.18) (-1.3,0.155) (-1.13,0.137) (-1.0,0.11) (-0.88,0.075) (-0.74,0.03) (-0.61,-0.012) (-0.52,-0.045) (-0.42,-0.069) (-0.44,-0.095) (-0.55,-0.07) (-0.64,-0.035) (-0.77,0.008) (-0.91,0.052) (-1.03,0.087) (-1.15,0.113) (-1.3,0.13) (-1.5,0.155) (-1.62,0.17)};
% bottom edge
\addplot[pattern=spkB, pattern color=vpur, spk] coordinates {(-0.42,-0.069) (-0.35,-0.082) (-0.26,-0.09) (-0.17,-0.11) (-0.1,-0.118) (-0.02,-0.125) (0.05,-0.12) (0.2,-0.11) (0.36,-0.103) (0.45,-0.1) (0.52,-0.09) (0.52,-0.12) (0.35,-0.14) (0.15,-0.15) (0.0,-0.165) (-0.2,-0.15) (-0.35,-0.13) (-0.4,-0.12)};
\addplot[pattern=spkD, pattern color=vpur, spk] coordinates {(-0.42,-0.069) (-0.35,-0.082) (-0.26,-0.09) (-0.17,-0.11) (-0.1,-0.118) (-0.02,-0.125) (0.05,-0.12) (0.2,-0.11) (0.36,-0.103) (0.45,-0.1) (0.52,-0.09) (0.53,-0.11) (0.45,-0.12) (0.36,-0.123) (0.2,-0.13) (0.05,-0.14) (-0.02,-0.145) (-0.1,-0.138) (-0.17,-0.13) (-0.26,-0.11) (-0.35,-0.102) (-0.44,-0.095)};
% right edge
\addplot[pattern=spkC, pattern color=vpur, spk] coordinates {(-0.35,0.285) (-0.25,0.265) (-0.17,0.244) (-0.1,0.225) (-0.03,0.21) (0,0.2) (0.01,0.17) (0.05,0.14) (0.1,0.118) (0.17,0.095) (0.24,0.078) (0.32,0.058) (0.4,0.037) (0.45,0.01) (0.5,-0.005) (0.54,-0.015) (0.545,-0.06) (0.52,-0.09) (0.58,-0.09) (0.6,-0.02) (0.5,0.05) (0.35,0.1) (0.2,0.14) (0.06,0.19) (0.03,0.24) (-0.1,0.27) (-0.3,0.31)};
\addplot[pattern=spkB, pattern color=vpur, spk] coordinates {(0,0.2) (0.01,0.17) (0.05,0.14) (0.1,0.118) (0.17,0.095) (0.24,0.078) (0.32,0.058) (0.4,0.037) (0.45,0.01) (0.5,-0.005) (0.54,-0.015) (0.545,-0.06) (0.52,-0.09) (0.56,-0.09) (0.575,-0.06) (0.57,-0.0) (0.52,0.015) (0.47,0.03) (0.42,0.057) (0.34,0.078) (0.26,0.098) (0.19,0.115) (0.12,0.138) (0.07,0.16) (0.03,0.19) (0.02,0.22)};
% white holes
\addplot[pattern=spkC, pattern color=white, spk] coordinates {(-1.5,0.18) (-1.3,0.155) (-1.13,0.137) (-1.0,0.11) (-0.88,0.075) (-0.74,0.03) (-0.61,-0.012) (-0.6,0.03) (-0.75,0.08) (-0.9,0.12) (-1.05,0.155) (-1.2,0.19) (-1.35,0.22) (-1.5,0.25)};
\addplot[pattern=spkB, pattern color=white, spk] coordinates {(-1.5,0.18) (-1.38,0.17) (-1.38,0.31) (-1.5,0.295)};
% reference lines
\addplot[dashgrey, line width=2.4pt, dash pattern=on 8.5pt off 3.5pt, forget plot] coordinates {(-2.1,0) (0.65,0)};
\addplot[dashgrey, line width=2.4pt, dash pattern=on 8.5pt off 3.5pt, forget plot] coordinates {(0,-0.3) (0,0.63)};
\node[anchor=base west, font=\fontsize{19.5}{23}\selectfont, inner sep=0pt] at (rel axis cs:0.038,0.9164) {\textit{N}\hspace{0.22em}=\hspace{0.22em}393743};
\node[anchor=base west, font=\fontsize{19.5}{23}\selectfont, inner sep=0pt] at (rel axis cs:0.038,0.8263) {quality disk sample};
\end{axis}
% colour bar of the bottom panel
\begin{axis}[cbar, at={(525.5pt,0pt)}, xtick={0,0.2435,0.5026,0.7487}, xticklabels={2,190,390,580}]
\addplot[surf, shader=interp, mesh/rows=11, mesh/cols=2, point meta=\thisrow{v}, forget plot] table[x=x,y=y] {\Ramp};
\end{axis}
\end{tikzpicture}
\end{document}
